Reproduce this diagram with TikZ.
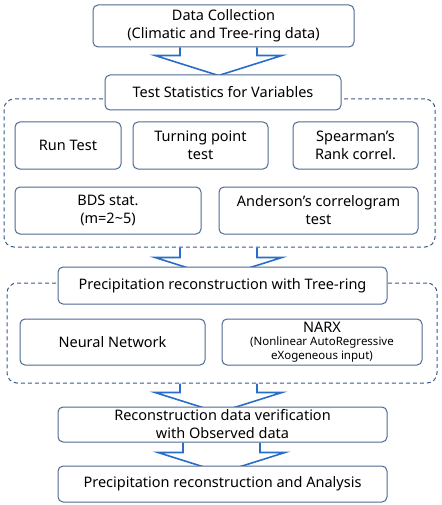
\documentclass[tikz,border=0pt]{standalone}
\usepackage{fontspec}
\setmainfont{Noto Sans}
\usetikzlibrary{calc}
\pgfdeclarelayer{background}
\pgfsetlayers{background,main}
\definecolor{boxc}{RGB}{79,105,145}
\definecolor{grpc}{RGB}{60,90,135}
\definecolor{arrc}{RGB}{40,110,200}
\tikzset{
  box/.style={draw=boxc, line width=1pt, rounded corners=5pt, fill=white,
    align=center, inner sep=0pt, font=\fontsize{14.5}{18}\selectfont},
  grp/.style={draw=grpc, line width=1pt, rounded corners=10pt,
    dash pattern=on 4pt off 3pt, inner sep=0pt},
  barrow/.style={draw=arrc, line width=1.6pt, line join=miter}
}
\newcommand\hollowarrow[2]{%
  \draw[barrow] ($(#1)+(-38.5pt,0)$) -- ($(#1)+(-38.5pt,-#2)$) -- ($(#1)+(-63.5pt,-#2)$)
    -- ($(#1)+(0,-#2-20pt)$) -- ($(#1)+(63.5pt,-#2)$) -- ($(#1)+(38.5pt,-#2)$)
    -- ($(#1)+(38.5pt,0)$);}
\begin{document}
\begin{tikzpicture}[x=1pt,y=1pt]
\useasboundingbox (0,0) rectangle (441,-505);
% main boxes
\node[box, minimum width=261, minimum height=42] (dc) at (223.5,-26) {Data Collection\\(Climatic and Tree-ring data)};
\node[box, minimum width=236, minimum height=35] (ts) at (223,-92.5) {Test Statistics for Variables};
\node[box, minimum width=106, minimum height=47] (run) at (68,-145.5) {Run Test};
\node[box, minimum width=135, minimum height=47] (tp) at (200.5,-145.5) {Turning point\\test};
\node[box, minimum width=125, minimum height=47] (sp) at (355.5,-145.5) {Spearman’s\\Rank correl.};
\node[box, minimum width=186, minimum height=47] (bds) at (108,-210.5) {BDS stat.\\(m=2\textasciitilde5)};
\node[box, minimum width=199, minimum height=47] (and) at (318.5,-210.5) {Anderson’s correlogram\\test};
\node[box, minimum width=329, minimum height=37] (pr) at (222.5,-285.5) {Precipitation reconstruction with Tree-ring};
\node[box, minimum width=185, minimum height=46] (nn) at (112.5,-342) {Neural Network};
\node[box, minimum width=200, minimum height=46] (narx) at (322,-342) {NARX\\[-5pt]{\fontsize{11.5}{10}\selectfont (Nonlinear AutoRegressive}\\[-4pt]{\fontsize{11.5}{10}\selectfont eXogeneous input)}};
\node[box, minimum width=329, minimum height=35] (rv) at (222.5,-424.5) {Reconstruction data verification\\with Observed data};
\node[box, minimum width=329, minimum height=36] (pa) at (222.5,-484) {Precipitation reconstruction and Analysis};
\begin{pgfonlayer}{background}
\node[grp, minimum width=431, minimum height=148] (g1) at (219.5,-173) {};
\node[grp, minimum width=430, minimum height=100] (g2) at (222,-333) {};
\coordinate (a1) at ($(dc.south)+(-5,0)$);
\coordinate (a2) at ($(g1.south)+(-1,0)$);
\coordinate (a3) at ($(g2.south)+(-3.5,0)$);
\coordinate (a4) at ($(rv.south)+(-1,0)$);
\hollowarrow{a1}{8pt}
\hollowarrow{a2}{10pt}
\hollowarrow{a3}{9pt}
\hollowarrow{a4}{10pt}
\end{pgfonlayer}
\end{tikzpicture}
\end{document}
